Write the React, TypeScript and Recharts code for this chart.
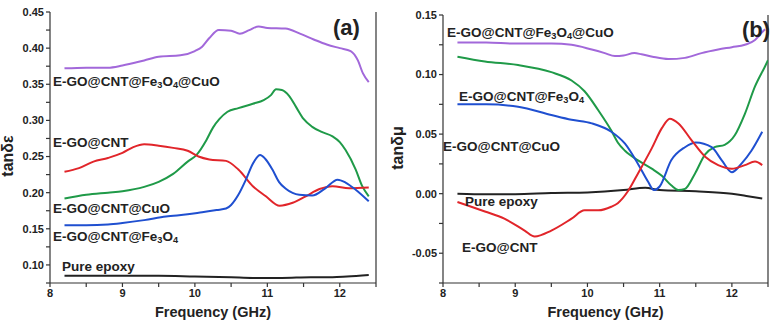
import { LineChart, Line, XAxis, YAxis, ReferenceLine } from 'recharts';

// panel (a): tanδε vs frequency (GHz)
const purpleA: [number, number][] = [
  [8.2, 0.372], [8.5, 0.373], [8.8, 0.373], [9.0, 0.376], [9.3, 0.383], [9.5, 0.388],
  [9.8, 0.39], [10.0, 0.396], [10.1, 0.402], [10.2, 0.414], [10.33, 0.425], [10.5, 0.424],
  [10.62, 0.42], [10.75, 0.425], [10.88, 0.43], [11.0, 0.428], [11.25, 0.427], [11.45, 0.42],
  [11.64, 0.412], [11.82, 0.405], [12.0, 0.4], [12.15, 0.396], [12.25, 0.383], [12.32, 0.365],
  [12.4, 0.353],
];
const greenA: [number, number][] = [
  [8.2, 0.192], [8.5, 0.197], [8.8, 0.2], [9.0, 0.202], [9.3, 0.208], [9.5, 0.215],
  [9.7, 0.226], [9.9, 0.243], [10.02, 0.252], [10.16, 0.273], [10.25, 0.29], [10.34, 0.302],
  [10.45, 0.312], [10.6, 0.317], [10.8, 0.323], [10.95, 0.328], [11.05, 0.335], [11.12, 0.343],
  [11.2, 0.342], [11.3, 0.334], [11.4, 0.318], [11.5, 0.302], [11.62, 0.291], [11.75, 0.284],
  [11.9, 0.278], [12.0, 0.27], [12.08, 0.259], [12.22, 0.232], [12.31, 0.209], [12.4, 0.195],
];
const redA: [number, number][] = [
  [8.2, 0.229], [8.4, 0.234], [8.6, 0.243], [8.8, 0.248], [9.0, 0.255], [9.15, 0.263],
  [9.3, 0.267], [9.5, 0.265], [9.7, 0.262], [9.9, 0.258], [10.05, 0.25], [10.2, 0.246],
  [10.43, 0.244], [10.6, 0.232], [10.8, 0.209], [10.98, 0.195], [11.17, 0.182], [11.35, 0.186],
  [11.53, 0.195], [11.72, 0.205], [11.9, 0.209], [12.13, 0.206], [12.4, 0.207],
];
const blueA: [number, number][] = [
  [8.2, 0.155], [8.5, 0.155], [8.8, 0.156], [9.0, 0.158], [9.3, 0.162], [9.6, 0.167],
  [9.9, 0.17], [10.1, 0.173], [10.3, 0.176], [10.43, 0.178], [10.5, 0.183], [10.6, 0.197],
  [10.7, 0.217], [10.8, 0.24], [10.9, 0.252], [10.97, 0.247], [11.07, 0.232], [11.16, 0.215],
  [11.26, 0.205], [11.44, 0.197], [11.62, 0.196], [11.8, 0.206], [11.97, 0.218], [12.08, 0.214],
  [12.22, 0.204], [12.4, 0.188],
];
const blackA: [number, number][] = [
  [8.2, 0.085], [9.0, 0.085], [9.5, 0.085], [10.0, 0.084], [10.5, 0.083], [10.8, 0.082],
  [11.2, 0.082], [11.6, 0.083], [11.9, 0.083], [12.1, 0.084], [12.4, 0.086],
];

// panel (b): tanδμ vs frequency (GHz)
const purpleB: [number, number][] = [
  [8.2, 0.127], [8.6, 0.127], [9.0, 0.126], [9.5, 0.126], [9.78, 0.125], [10.06, 0.121],
  [10.24, 0.118], [10.38, 0.1155], [10.5, 0.116], [10.65, 0.118], [10.75, 0.117], [10.9, 0.115],
  [11.12, 0.113], [11.35, 0.114], [11.58, 0.118], [11.81, 0.121], [12.0, 0.123], [12.18, 0.125],
  [12.32, 0.129], [12.41, 0.135], [12.46, 0.138],
];
const greenB: [number, number][] = [
  [8.2, 0.115], [8.58, 0.111], [9.04, 0.108], [9.5, 0.102], [9.78, 0.095], [9.96, 0.086],
  [10.15, 0.07], [10.33, 0.053], [10.42, 0.043], [10.52, 0.036], [10.7, 0.028], [10.89, 0.021],
  [11.03, 0.015], [11.16, 0.007], [11.26, 0.003], [11.35, 0.004], [11.49, 0.017], [11.63, 0.033],
  [11.76, 0.039], [11.9, 0.041], [12.04, 0.049], [12.18, 0.067], [12.32, 0.09], [12.46, 0.107],
  [12.5, 0.112],
];
const blueB: [number, number][] = [
  [8.2, 0.075], [8.6, 0.075], [9.04, 0.073], [9.5, 0.066], [9.78, 0.062], [10.06, 0.059],
  [10.33, 0.052], [10.52, 0.042], [10.7, 0.025], [10.84, 0.01], [10.92, 0.003], [11.0, 0.006],
  [11.16, 0.028], [11.35, 0.039], [11.5, 0.043], [11.72, 0.039], [11.86, 0.028], [12.0, 0.018],
  [12.13, 0.025], [12.27, 0.036], [12.42, 0.052],
];
const redB: [number, number][] = [
  [8.2, -0.007], [8.58, -0.015], [8.85, -0.021], [9.13, -0.031], [9.27, -0.036], [9.5, -0.031],
  [9.78, -0.021], [9.96, -0.014], [10.15, -0.014], [10.33, -0.011], [10.42, -0.008], [10.56, 0.002],
  [10.7, 0.017], [10.89, 0.038], [11.03, 0.055], [11.14, 0.063], [11.26, 0.059], [11.44, 0.045],
  [11.63, 0.031], [11.81, 0.024], [12.0, 0.021], [12.18, 0.024], [12.32, 0.027], [12.42, 0.024],
];
const blackB: [number, number][] = [
  [8.2, 0.0], [8.6, -0.0005], [9.0, -0.0005], [9.5, 0.0005], [10.0, 0.001], [10.5, 0.003],
  [10.8, 0.005], [11.0, 0.003], [11.5, 0.002], [12.0, 0.0], [12.2, -0.002], [12.42, -0.004],
];

const xTicks = [8, 8.5, 9, 9.5, 10, 10.5, 11, 11.5, 12, 12.5];
const yTicksA = [0.075, 0.1, 0.125, 0.15, 0.175, 0.2, 0.225, 0.25, 0.275, 0.3, 0.325, 0.35, 0.375, 0.4, 0.425, 0.45];
const yTicksB = [-0.075, -0.05, -0.025, 0, 0.025, 0.05, 0.075, 0.1, 0.125, 0.15];

const COLORS = {
  purple: '#a268da',
  green: '#1f9a48',
  red: '#e1252a',
  blue: '#1f4fd0',
  black: '#222222',
};

const FONT = '"Liberation Sans", Arial, sans-serif';
const tickStyle = { fill: '#222', fontSize: 11, fontWeight: 700, fontFamily: FONT };
const axisStroke = { stroke: '#333', strokeWidth: 1.2 };

const toPts = (arr: [number, number][]) => arr.map(([f, v]) => ({ f, v }));

const isMajor = (v: number, step: number) => Math.abs(v / step - Math.round(v / step)) < 1e-6;

function Sub({ children }: { children: string }) {
  return <sub style={{ fontSize: '0.68em', verticalAlign: '-0.25em', lineHeight: 0 }}>{children}</sub>;
}

function Note({ left, top, children, size = 13.5 }: { left: number; top: number; children: any; size?: number }) {
  return (
    <div
      style={{
        position: 'absolute',
        left,
        top,
        fontSize: size,
        lineHeight: 1,
        fontWeight: 700,
        color: '#222',
        whiteSpace: 'nowrap',
      }}
    >
      {children}
    </div>
  );
}

function Panel({
  series,
  yDomain,
  yTicks,
  yFmt,
  width,
  yWidth,
  top,
  right,
}: {
  series: { data: [number, number][]; color: string; name: string }[];
  yDomain: [number, number];
  yTicks: number[];
  yFmt: (v: number) => string;
  width: number;
  yWidth: number;
  top: number;
  right: number;
}) {
  return (
    <LineChart width={width} height={322} margin={{ top, right, bottom: 0, left: 0 }}>
      <XAxis
        type="number"
        dataKey="f"
        domain={[8, 12.5]}
        ticks={xTicks}
        tickFormatter={(v) => (isMajor(v, 1) ? String(v) : '')}
        tick={tickStyle}
        tickSize={4}
        axisLine={axisStroke}
        tickLine={axisStroke}
        height={39}
        allowDataOverflow
        label={{
          value: 'Frequency (GHz)',
          position: 'insideBottom',
          offset: 5,
          style: { fill: '#222', fontSize: 14.5, fontWeight: 700, fontFamily: FONT },
        }}
      />
      <YAxis
        type="number"
        domain={yDomain}
        ticks={yTicks}
        tickFormatter={yFmt}
        tick={tickStyle}
        tickSize={4}
        axisLine={axisStroke}
        tickLine={axisStroke}
        width={yWidth}
        allowDataOverflow
      />
      <ReferenceLine x={12.5} stroke="#333" strokeWidth={1.2} />
      {series.map((s) => (
        <Line
          key={s.name}
          data={toPts(s.data)}
          dataKey="v"
          type="monotone"
          stroke={s.color}
          strokeWidth={2}
          dot={false}
          isAnimationActive={false}
        />
      ))}
    </LineChart>
  );
}

export default function App() {
  const seriesA = [
    { name: 'black', data: blackA, color: COLORS.black },
    { name: 'purple', data: purpleA, color: COLORS.purple },
    { name: 'green', data: greenA, color: COLORS.green },
    { name: 'red', data: redA, color: COLORS.red },
    { name: 'blue', data: blueA, color: COLORS.blue },
  ];
  const seriesB = [
    { name: 'black', data: blackB, color: COLORS.black },
    { name: 'purple', data: purpleB, color: COLORS.purple },
    { name: 'green', data: greenB, color: COLORS.green },
    { name: 'blue', data: blueB, color: COLORS.blue },
    { name: 'red', data: redB, color: COLORS.red },
  ];

  return (
    <div
      style={{
        position: 'absolute',
        left: 0,
        top: 0,
        width: 773,
        height: 322,
        background: '#fff',
        fontFamily: FONT,
        overflow: 'hidden',
      }}
    >
      <div style={{ position: 'absolute', left: 0, top: 0 }}>
        <Panel
          series={seriesA}
          yDomain={[0.075, 0.45]}
          yTicks={yTicksA}
          yFmt={(v) => (isMajor(v, 0.05) ? v.toFixed(2) : '')}
          width={386}
          yWidth={50}
          top={12}
          right={10}
        />
      </div>
      <div style={{ position: 'absolute', left: 385, top: 0 }}>
        <Panel
          series={seriesB}
          yDomain={[-0.075, 0.15]}
          yTicks={yTicksB}
          yFmt={(v) => (isMajor(v, 0.05) ? v.toFixed(2) : '')}
          width={388}
          yWidth={58}
          top={15}
          right={5}
        />
      </div>

      {/* y axis titles */}
      <div
        style={{
          position: 'absolute',
          left: 8,
          top: 156,
          transform: 'translate(-50%, -50%) rotate(-90deg)',
          fontSize: 16,
          fontWeight: 700,
          color: '#222',
          whiteSpace: 'nowrap',
        }}
      >
        tanδε
      </div>
      <div
        style={{
          position: 'absolute',
          left: 398,
          top: 148,
          transform: 'translate(-50%, -50%) rotate(-90deg)',
          fontSize: 16,
          fontWeight: 700,
          color: '#222',
          whiteSpace: 'nowrap',
        }}
      >
        tanδμ
      </div>

      {/* panel (a) annotations */}
      <Note left={53} top={75}>
        E-GO@CNT@Fe<Sub>3</Sub>O<Sub>4</Sub>@CuO
      </Note>
      <Note left={53} top={136}>E-GO@CNT</Note>
      <Note left={53} top={202}>E-GO@CNT@CuO</Note>
      <Note left={53} top={230}>
        E-GO@CNT@Fe<Sub>3</Sub>O<Sub>4</Sub>
      </Note>
      <Note left={62} top={260}>Pure epoxy</Note>
      <Note left={333} top={17} size={22}>(a)</Note>

      {/* panel (b) annotations */}
      <Note left={447} top={26}>
        E-GO@CNT@Fe<Sub>3</Sub>O<Sub>4</Sub>@CuO
      </Note>
      <Note left={459} top={90}>
        E-GO@CNT@Fe<Sub>3</Sub>O<Sub>4</Sub>
      </Note>
      <Note left={443} top={140}>E-GO@CNT@CuO</Note>
      <Note left={465} top={195}>Pure epoxy</Note>
      <Note left={462} top={241}>E-GO@CNT</Note>
      <Note left={742} top={19} size={22}>(b)</Note>
    </div>
  );
}
